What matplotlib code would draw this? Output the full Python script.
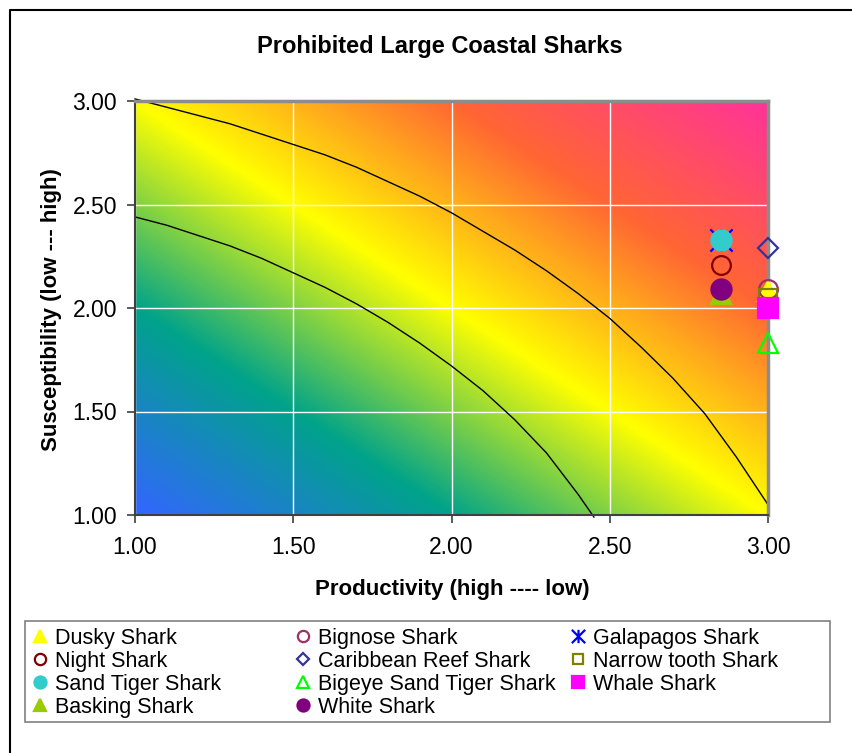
import numpy as np
import matplotlib.pyplot as plt
from matplotlib.colors import LinearSegmentedColormap
from matplotlib.lines import Line2D
from matplotlib.patches import Rectangle
from matplotlib.path import Path

plt.rcParams['font.family'] = ['Liberation Sans', 'DejaVu Sans']

# shark series, in the order they are drawn
names = ["Dusky Shark", "Bignose Shark", "Galapagos Shark", "Night Shark",
         "Caribbean Reef Shark", "Narrow tooth Shark", "Sand Tiger Shark",
         "Bigeye Sand Tiger Shark", "Whale Shark", "Basking Shark", "White Shark"]
productivity = [3.00, 3.00, 2.85, 2.85, 3.00, 3.00, 2.85, 3.00, 3.00, 2.85, 2.85]
susceptibility = [2.08, 2.09, 2.33, 2.21, 2.29, 2.05, 2.33, 1.83, 2.00, 2.07, 2.09]

# vulnerability contour lines
outer_x = [1.0, 1.1, 1.2, 1.3, 1.4, 1.5, 1.6, 1.7, 1.8, 1.9, 2.0,
           2.1, 2.2, 2.3, 2.4, 2.5, 2.6, 2.7, 2.8, 2.9, 3.0]
outer_y = [3.01, 2.97, 2.93, 2.89, 2.84, 2.79, 2.74, 2.68, 2.61, 2.54, 2.46,
           2.37, 2.28, 2.18, 2.07, 1.95, 1.81, 1.66, 1.49, 1.28, 1.05]
inner_x = [1.0, 1.1, 1.2, 1.3, 1.4, 1.5, 1.6, 1.7, 1.8, 1.9, 2.0,
           2.1, 2.2, 2.3, 2.4, 2.45]
inner_y = [2.44, 2.40, 2.35, 2.30, 2.24, 2.17, 2.10, 2.02, 1.93, 1.83, 1.72,
           1.60, 1.46, 1.30, 1.10, 0.99]

ticks = [1.0, 1.5, 2.0, 2.5, 3.0]

# excel style asterisk: an X with a vertical bar
star = Path([(-1, -1), (1, 1), (-1, 1), (1, -1), (0, -1), (0, 1)],
            [Path.MOVETO, Path.LINETO, Path.MOVETO, Path.LINETO, Path.MOVETO, Path.LINETO])

styles = {
    "Dusky Shark": dict(marker='^', ms=14.5, mfc='#FFFF00', mec='#FFFF00'),
    "Bignose Shark": dict(marker='o', ms=13.5, mfc='none', mec='#993366'),
    "Galapagos Shark": dict(marker=star, ms=16, mfc='none', mec='#0000FF'),
    "Night Shark": dict(marker='o', ms=13.5, mfc='none', mec='#800000'),
    "Caribbean Reef Shark": dict(marker='D', ms=10.5, mfc='none', mec='#333399'),
    "Narrow tooth Shark": dict(marker='s', ms=13, mfc='none', mec='#808000'),
    "Sand Tiger Shark": dict(marker='o', ms=14.5, mfc='#33CCCC', mec='#33CCCC'),
    "Bigeye Sand Tiger Shark": dict(marker='^', ms=14.5, mfc='none', mec='#00FF00'),
    "Whale Shark": dict(marker='s', ms=14, mfc='#FF00FF', mec='#FF00FF'),
    "Basking Shark": dict(marker='^', ms=14.5, mfc='#99CC00', mec='#99CC00'),
    "White Shark": dict(marker='o', ms=14.5, mfc='#800080', mec='#800080'),
}

W, H = 852, 753
fig = plt.figure(figsize=(W / 100, H / 100), dpi=100)
ax = fig.add_axes([135 / W, 1 - 515 / H, 633 / W, 414 / H])

# diagonal background gradient
grad = LinearSegmentedColormap.from_list(
    'psa', [(0.0, '#3366FF'), (0.25, '#00A38A'), (0.5, '#FFFF00'),
            (0.75, '#FF6633'), (1.0, '#FF3399')])
u, v = np.meshgrid(np.linspace(0, 1, 400), np.linspace(0, 1, 400))
ax.imshow((u + v) / 2, cmap=grad, extent=[1, 3, 1, 3], origin='lower',
          aspect='auto', interpolation='bilinear', zorder=0)

ax.plot(outer_x, outer_y, color='black', lw=1, clip_on=False, zorder=2)
ax.plot(inner_x, inner_y, color='black', lw=1, clip_on=False, zorder=2)

handles = {}
for n, px, sy in zip(names, productivity, susceptibility):
    st = styles[n]
    h, = ax.plot([px], [sy], linestyle='none', marker=st['marker'], markersize=st['ms'],
                 markerfacecolor=st['mfc'], markeredgecolor=st['mec'],
                 markeredgewidth=1.6, clip_on=False, zorder=3, label=n)
    handles[n] = h

ax.set_xlim(1, 3)
ax.set_ylim(1, 3)
ax.set_xticks(ticks)
ax.set_yticks(ticks)
ax.set_xticklabels([f"{t:.2f}" for t in ticks])
ax.set_yticklabels([f"{t:.2f}" for t in ticks])
ax.tick_params(labelsize=16.5, length=6, width=1.2, color='#404040', pad=9)
ax.tick_params(axis='y', pad=7)
ax.grid(True, color='white', lw=1)
ax.set_axisbelow(True)
for s in ['left', 'bottom']:
    ax.spines[s].set_color('#404040')
    ax.spines[s].set_linewidth(1.5)
for s in ['top', 'right']:
    ax.spines[s].set_color('#8C8C8C')
    ax.spines[s].set_linewidth(2.5)

fig.text(440 / W, 1 - 46 / H, "Prohibited Large Coastal Sharks", fontsize=17,
         fontweight='bold', ha='center', va='center')
fig.text(452 / W, 1 - 589 / H, "Productivity (high ---- low)", fontsize=16,
         fontweight='bold', ha='center', va='center')
fig.text(52 / W, 1 - 310 / H, "Susceptibility (low --- high)", fontsize=16,
         fontweight='bold', ha='center', va='center', rotation=90)

# chart area border (top and left edges)
fig.add_artist(Line2D([10 / W, 10 / W, 1], [0, 1 - 10 / H, 1 - 10 / H],
                      transform=fig.transFigure, color='black', lw=1.5))

# legend box, three equal-width columns
fig.add_artist(Rectangle((25 / W, 1 - 722 / H), 805 / W, 101 / H, transform=fig.transFigure,
                         fill=False, edgecolor='#808080', lw=1.2))
columns = [["Dusky Shark", "Night Shark", "Sand Tiger Shark", "Basking Shark"],
           ["Bignose Shark", "Caribbean Reef Shark", "Bigeye Sand Tiger Shark", "White Shark"],
           ["Galapagos Shark", "Narrow tooth Shark", "Whale Shark"]]
col_x = [40, 303, 578]
leg_fs = 15.5
fs_px = leg_fs * 100 / 72
for col, cx in zip(columns, col_x):
    fig.legend([handles[n] for n in col], col, loc='upper left',
               bbox_to_anchor=((cx - 0.35 * fs_px) / W, 1 - 628 / H),
               frameon=False, fontsize=leg_fs, markerscale=0.6, handlelength=0.7,
               handletextpad=0.33, labelspacing=0.09, borderpad=0, borderaxespad=0)

fig.savefig('out.png', dpi=100)
